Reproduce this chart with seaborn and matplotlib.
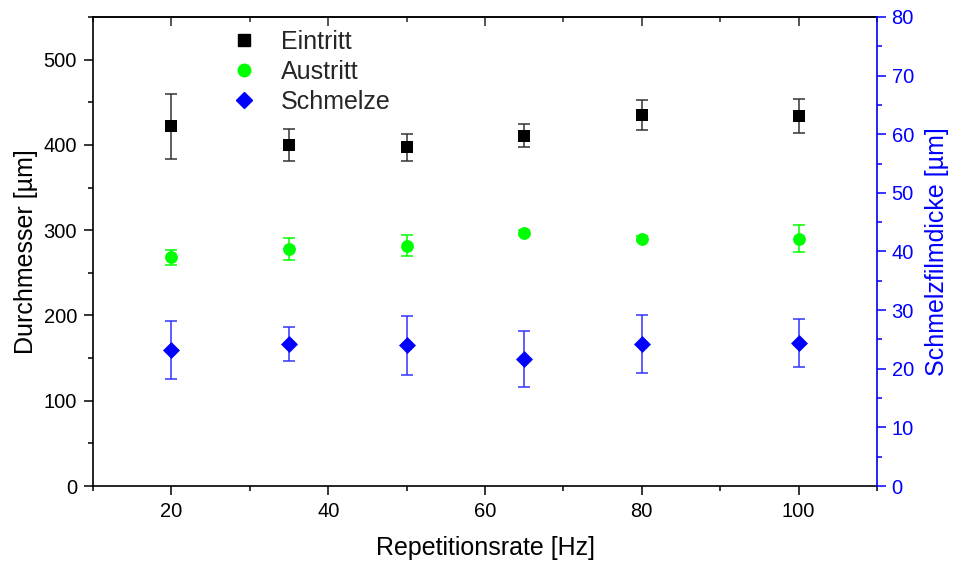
import matplotlib
matplotlib.use("Agg")
import matplotlib.pyplot as plt
import seaborn as sns
import numpy as np
import pandas as pd
from matplotlib.lines import Line2D
from matplotlib.ticker import MultipleLocator

# Data
rate = [20, 35, 50, 65, 80, 100]
eintritt = [422, 400, 397, 411, 435, 434]
eintritt_err = [38, 19, 16, 13, 18, 20]
austritt = [268, 278, 282, 297, 290, 290]
austritt_err = [8.5, 13, 12, 3, 3, 15.5]
schmelze = [23.2, 24.3, 24.0, 21.7, 24.3, 24.4]
schmelze_err = [5.0, 2.9, 5.0, 4.75, 4.95, 4.1]

sns.set_theme(style="white")
plt.rcParams['font.family'] = ['Liberation Sans', 'DejaVu Sans']

fig = plt.figure(figsize=(9.57, 5.62), dpi=100)
ax = fig.add_axes([0.0972, 0.1352, 0.8192, 0.8346])
ax2 = ax.twinx()

df = pd.DataFrame({"rate": rate, "eintritt": eintritt, "austritt": austritt, "schmelze": schmelze})

ax.errorbar(rate, eintritt, yerr=eintritt_err, fmt='none', ecolor='#333333', elinewidth=1.1, capsize=4.5, capthick=1.1, zorder=2)
ax.errorbar(rate, austritt, yerr=austritt_err, fmt='none', ecolor='#00ff00', elinewidth=1.1, capsize=4.5, capthick=1.1, zorder=2)
ax2.errorbar(rate, schmelze, yerr=schmelze_err, fmt='none', ecolor='#3333ff', elinewidth=1.1, capsize=4.5, capthick=1.1, zorder=2)

sns.scatterplot(data=df, x="rate", y="eintritt", ax=ax, marker='s', color='black', s=75, linewidth=0, zorder=3, legend=False)
sns.scatterplot(data=df, x="rate", y="austritt", ax=ax, marker='o', color='#00ff00', s=85, linewidth=0, zorder=3, legend=False)
sns.scatterplot(data=df, x="rate", y="schmelze", ax=ax2, marker='D', color='#0000ff', s=75, linewidth=0, zorder=3, legend=False)

ax.set_xlim(10, 110)
ax.set_ylim(0, 550)
ax2.set_ylim(0, 80)

ax.xaxis.set_major_locator(MultipleLocator(20))
ax.xaxis.set_minor_locator(MultipleLocator(10))
ax.yaxis.set_major_locator(MultipleLocator(100))
ax.yaxis.set_minor_locator(MultipleLocator(50))
ax2.yaxis.set_major_locator(MultipleLocator(10))
ax2.yaxis.set_minor_locator(MultipleLocator(5))

for sp in ['left', 'bottom', 'top']:
    ax.spines[sp].set_color('black')
    ax.spines[sp].set_linewidth(1.2)
ax2.spines['right'].set_color('#0000ff')
ax2.spines['right'].set_linewidth(1.2)
for sp in ['left', 'bottom', 'top']:
    ax2.spines[sp].set_visible(False)
ax.spines['right'].set_visible(False)

TS = 14.5
ax.tick_params(axis='x', which='both', direction='out', bottom=True, top=False, colors='black', labelsize=TS, width=1.1, pad=5)
ax.tick_params(axis='x', which='major', length=6.5)
ax.tick_params(axis='x', which='minor', length=3.5)
ax.tick_params(axis='y', which='both', direction='out', left=True, colors='black', labelsize=TS, width=1.1, pad=5)
ax.tick_params(axis='y', which='major', length=6.5)
ax.tick_params(axis='y', which='minor', length=3.5)
ax2.tick_params(axis='y', which='both', direction='out', right=True, colors='#0000ff', labelsize=TS, width=1.1, pad=4)
ax2.tick_params(axis='y', which='major', length=6.5)
ax2.tick_params(axis='y', which='minor', length=3.5)

# top inward ticks
secx = ax.secondary_xaxis('top')
secx.xaxis.set_major_locator(MultipleLocator(20))
secx.xaxis.set_minor_locator(MultipleLocator(10))
secx.tick_params(axis='x', which='both', direction='in', labeltop=False, width=1.1)
secx.tick_params(axis='x', which='major', length=6.5)
secx.tick_params(axis='x', which='minor', length=3.5)
secx.spines['top'].set_linewidth(1.2)

LS = 18
ax.set_xlabel("Repetitionsrate [Hz]", fontsize=LS, color='black', labelpad=11)
ax.set_ylabel("Durchmesser [µm]", fontsize=LS, color='black', labelpad=4)
ax2.set_ylabel("Schmelzfilmdicke [µm]", fontsize=LS, color='#0000ff', labelpad=8)

handles = [
    Line2D([], [], marker='s', color='black', linestyle='none', markersize=8.5),
    Line2D([], [], marker='o', color='#00ff00', linestyle='none', markersize=9),
    Line2D([], [], marker='D', color='#0000ff', linestyle='none', markersize=8),
]
ax2.legend(handles, ["Eintritt", "Austritt", "Schmelze"], loc='upper left',
           bbox_to_anchor=(0.142, 1.005), frameon=False, fontsize=18,
           handletextpad=0.46, labelspacing=0.25, borderaxespad=0.2)

fig.savefig("out.png", dpi=100)
